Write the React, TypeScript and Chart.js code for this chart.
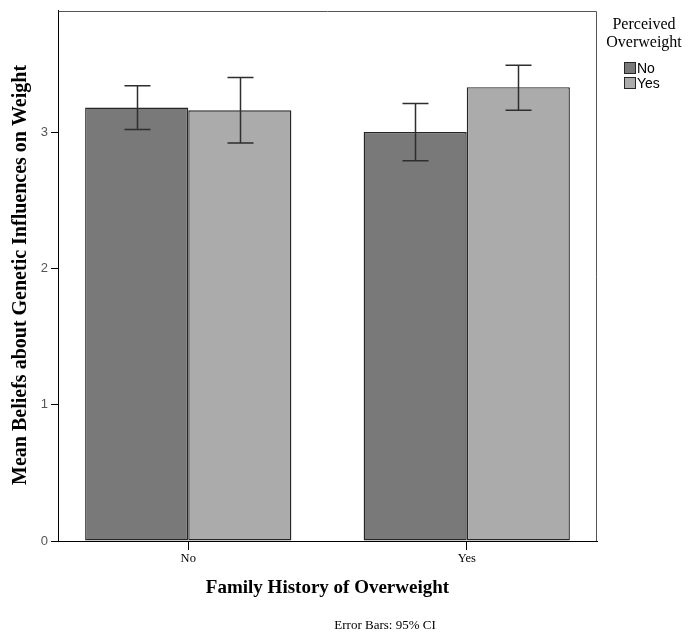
import React, { useEffect, useRef } from "react";
import { Chart, registerables } from "chart.js";

Chart.register(...registerables);

// ---- Data ----
const categories = ["No", "Yes"]; // Family History of Overweight
const seriesLabels = ["No", "Yes"]; // Perceived Overweight
const meansPerceivedNo = [3.18, 3.0];
const meansPerceivedYes = [3.16, 3.33];
const ciLowerPerceivedNo = [3.02, 2.79];
const ciUpperPerceivedNo = [3.34, 3.21];
const ciLowerPerceivedYes = [2.92, 3.16];
const ciUpperPerceivedYes = [3.4, 3.49];
const yTickValues = [0, 1, 2, 3];
const yAxisTitle = "Mean Beliefs about Genetic Influences on Weight";
const xAxisTitle = "Family History of Overweight";
const legendTitle = ["Perceived", "Overweight"];
const footnote = "Error Bars: 95% CI";

const SERIF = '"Liberation Serif", "Times New Roman", serif';
const SANS = '"Liberation Sans", Arial, sans-serif';
const barColors = ["#797979", "#ababab"];
const barBorder = "#262626";

const decorPlugin = {
  id: "decor",
  afterDatasetsDraw(chart: any) {
    const ctx = chart.ctx;
    const yScale = chart.scales.y;
    ctx.save();
    chart.data.datasets.forEach((ds: any, di: number) => {
      const meta = chart.getDatasetMeta(di);
      meta.data.forEach((bar: any, i: number) => {
        const x = Math.round(bar.x) + 0.5;
        const yl = yScale.getPixelForValue(ds.ciLower[i]);
        const yh = yScale.getPixelForValue(ds.ciUpper[i]);
        ctx.strokeStyle = "#2e2e2e";
        ctx.lineWidth = 1.5;
        ctx.beginPath();
        ctx.moveTo(x, yl);
        ctx.lineTo(x, yh);
        ctx.moveTo(x - 13, yl);
        ctx.lineTo(x + 13, yl);
        ctx.moveTo(x - 13, yh);
        ctx.lineTo(x + 13, yh);
        ctx.stroke();
      });
    });
    ctx.restore();
  },
  afterDraw(chart: any) {
    const ctx = chart.ctx;
    const a = chart.chartArea;
    ctx.save();
    // frame (top and right)
    ctx.strokeStyle = "#555";
    ctx.lineWidth = 1;
    ctx.beginPath();
    ctx.moveTo(Math.round(a.left) + 0.5, Math.round(a.top) + 0.5);
    ctx.lineTo(Math.round(a.right) - 0.5, Math.round(a.top) + 0.5);
    ctx.lineTo(Math.round(a.right) - 0.5, Math.round(a.bottom));
    ctx.stroke();

    ctx.fillStyle = "#000";
    // y title
    ctx.save();
    ctx.translate(21, (a.top + a.bottom) / 2 - 1);
    ctx.rotate(-Math.PI / 2);
    ctx.font = `bold 20px ${SERIF}`;
    ctx.textAlign = "center";
    ctx.textBaseline = "middle";
    ctx.fillText(yAxisTitle, 0, 0);
    ctx.restore();

    // x title
    ctx.font = `bold 19px ${SERIF}`;
    ctx.textAlign = "center";
    ctx.textBaseline = "middle";
    ctx.fillText(xAxisTitle, (a.left + a.right) / 2, 588);

    // footnote
    ctx.font = `13px ${SERIF}`;
    ctx.fillText(footnote, 385, 626);

    // legend
    ctx.font = `16px ${SERIF}`;
    ctx.fillText(legendTitle[0], 644, 25);
    ctx.fillText(legendTitle[1], 644, 43);
    seriesLabels.forEach((lab, i) => {
      const cy = 68 + i * 15;
      ctx.fillStyle = barColors[i];
      ctx.fillRect(624, cy - 6, 12, 12);
      ctx.strokeStyle = barBorder;
      ctx.lineWidth = 1;
      ctx.strokeRect(624.5, cy - 5.5, 11, 11);
      ctx.fillStyle = "#000";
      ctx.font = `14px ${SANS}`;
      ctx.textAlign = "left";
      ctx.textBaseline = "middle";
      ctx.fillText(lab, 637, cy + 1);
    });
    ctx.restore();
  },
};

export default function App() {
  const ref = useRef<HTMLCanvasElement | null>(null);
  useEffect(() => {
    document.body.style.margin = "0";
    if (!ref.current) return;
    const chart = new Chart(ref.current, {
      type: "bar",
      data: {
        datasets: [
          {
            label: seriesLabels[0],
            data: categories.map((_, i) => ({ x: i, y: meansPerceivedNo[i] })),
            backgroundColor: barColors[0],
            borderColor: barBorder,
            borderWidth: 1.4,
            borderSkipped: false,
            ciLower: ciLowerPerceivedNo,
            ciUpper: ciUpperPerceivedNo,
          } as any,
          {
            label: seriesLabels[1],
            data: categories.map((_, i) => ({ x: i, y: meansPerceivedYes[i] })),
            backgroundColor: barColors[1],
            borderColor: barBorder,
            borderWidth: 1.4,
            borderSkipped: false,
            ciLower: ciLowerPerceivedYes,
            ciUpper: ciUpperPerceivedYes,
          } as any,
        ],
      },
      options: {
        responsive: false,
        animation: false,
        layout: { padding: { top: 8, right: 93, left: 0, bottom: 0 } },
        plugins: { legend: { display: false }, tooltip: { enabled: false } },
        datasets: { bar: { categoryPercentage: 0.7406, barPercentage: 1 } } as any,
        scales: {
          x: {
            type: "linear",
            min: -0.4677,
            max: 1.4677,
            offset: false,
            afterBuildTicks: (s: any) => {
              s.ticks = categories.map((_, i) => ({ value: i }));
            },
            ticks: {
              callback: (v: any) => categories[v] ?? "",
              font: { family: SERIF, size: 12.5 },
              color: "#000",
              padding: 1,
              autoSkip: false,
              maxRotation: 0,
            },
            grid: { offset: false, drawOnChartArea: false, drawTicks: true, tickLength: 9, color: "#000" },
            border: { display: true, color: "#000", width: 1 },
            afterFit: (s: any) => {
              s.height = 94;
            },
          },
          y: {
            min: 0,
            max: 3.89,
            afterBuildTicks: (s: any) => {
              s.ticks = yTickValues.map((v) => ({ value: v }));
            },
            ticks: { font: { family: SANS, size: 13 }, color: "#555", padding: 3 },
            grid: { drawOnChartArea: false, drawTicks: true, tickLength: 7, color: "#000" },
            border: { display: true, color: "#000", width: 1 },
            afterFit: (s: any) => {
              s.width = 58;
            },
          },
        },
      } as any,
      plugins: [decorPlugin],
    });
    return () => chart.destroy();
  }, []);
  return (
    <div style={{ position: "absolute", left: 0, top: 0, width: 690, height: 635 }}>
      <canvas ref={ref} width={690} height={635} style={{ display: "block" }} />
    </div>
  );
}
